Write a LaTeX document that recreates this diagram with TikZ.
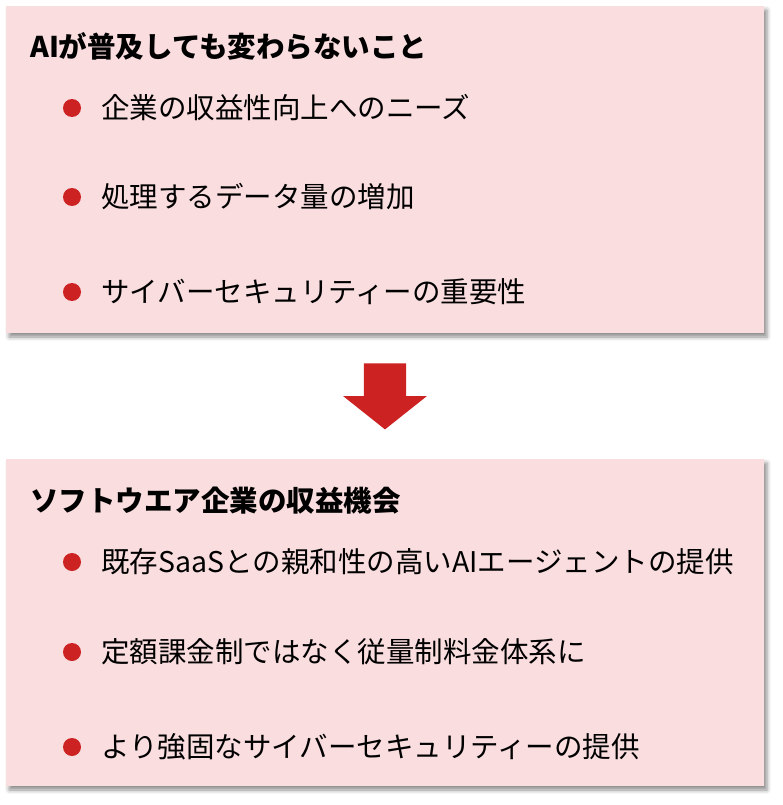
\documentclass[tikz,border=0pt]{standalone}
\usepackage{fontspec}
\setmainfont{Noto Sans CJK JP}
\usetikzlibrary{shadows.blur,shapes.arrows,calc}
\definecolor{boxpink}{RGB}{250,221,223}
\definecolor{dotred}{RGB}{204,34,34}
\tikzset{
  panel/.style={fill=boxpink,minimum width=758pt,minimum height=327pt,inner sep=0pt,
    blur shadow={shadow xshift=3pt,shadow yshift=-4pt,shadow opacity=45,shadow blur radius=4pt}},
  heading/.style={anchor=west,font=\fontsize{28.5}{31}\selectfont\bfseries,inner sep=0pt},
  item/.style={anchor=west,font=\fontsize{28.5}{31}\selectfont,inner sep=0pt},
  dot/.style={circle,fill=dotred,minimum size=18pt,inner sep=0pt},
  downarrow/.style={single arrow,fill=dotred,rotate=-90,inner sep=0pt,inner ysep=21pt,
    minimum height=66pt,single arrow head extend=20.5pt,single arrow tip angle=103}
}
\begin{document}
\begin{tikzpicture}[x=1pt,y=-1pt]
    \useasboundingbox (0,0) rectangle (782,805);
    % upper panel
    \node[panel] (box1) at (385,169.5) {};
    \node[heading] (t1) at (30,46) {AIが普及しても変わらないこと};
    \node[dot] (d11) at (72,108) {};
    \node[dot] (d12) at (72,197) {};
    \node[dot] (d13) at (72,292) {};
    \node[item] (i11) at (101,108) {企業の収益性向上へのニーズ};
    \node[item] (i12) at (101,197) {処理するデータ量の増加};
    \node[item] (i13) at (101,292) {サイバーセキュリティーの重要性};
    % lower panel
    \node[panel] (box2) at (385,622.5) {};
    \node[heading] (t2) at (30,501) {ソフトウエア企業の収益機会};
    \node[dot] (d21) at (72,562) {};
    \node[dot] (d22) at (72,652) {};
    \node[dot] (d23) at (72,747) {};
    \node[item] (i21) at (101,562) {既存SaaSとの親和性の高いAIエージェントの提供};
    \node[item] (i22) at (101,652) {定額課金制ではなく従量制料金体系に};
    \node[item] (i23) at (101,747) {より強固なサイバーセキュリティーの提供};
    % arrow between panels
    \node[downarrow,anchor=tail] (arr) at ($(box1.south)+(0,30)$) {};
\end{tikzpicture}
\end{document}
